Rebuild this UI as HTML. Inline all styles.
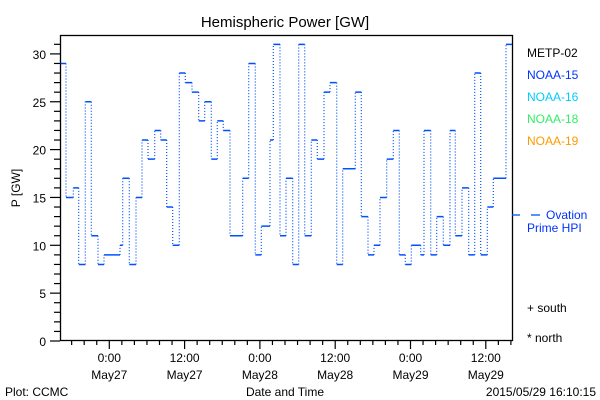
<!DOCTYPE html>
<html><head><meta charset="utf-8"><style>
body{margin:0;background:#fff;width:600px;height:400px;overflow:hidden}
svg{display:block}
text{font-family:"Liberation Sans",sans-serif;font-size:12px;fill:#000}
</style></head><body>
<svg id="s" width="600" height="400" xmlns="http://www.w3.org/2000/svg">
<rect x="0" y="0" width="600" height="400" fill="#fff"/>
<text x="285" y="27" text-anchor="middle" style="font-size:15px">Hemispheric Power [GW]</text>
<rect x="60.5" y="35.5" width="452" height="305" fill="none" stroke="#000" stroke-width="1.3"/>
<g id="ax" stroke="#000" stroke-width="1.2"></g>
<g id="lab"></g>
<path id="h" fill="none" stroke="#0050ff" stroke-width="1.5"/>
<path id="v" fill="none" stroke="#0050ff" stroke-width="1.2" stroke-dasharray="1 2"/>
<text x="20" y="188" text-anchor="middle" transform="rotate(-90 20 188)">P [GW]</text>
<text x="527" y="57">METP-02</text>
<text x="527" y="79" style="fill:#0033ff">NOAA-15</text>
<text x="527" y="101" style="fill:#00ccff">NOAA-16</text>
<text x="527" y="123" style="fill:#33ee66">NOAA-18</text>
<text x="527" y="145" style="fill:#ff9900">NOAA-19</text>
<line x1="512" y1="215" x2="520" y2="215" stroke="#0050ff" stroke-width="1.3"/>
<line x1="531" y1="215" x2="540" y2="215" stroke="#0050ff" stroke-width="1.3"/>
<text x="546" y="219" style="fill:#0033ff">Ovation</text>
<text x="527" y="232" style="fill:#0033ff">Prime HPI</text>
<text x="527" y="312">+ south</text>
<text x="527" y="342">* north</text>
<text x="5" y="396">Plot: CCMC</text>
<text x="285" y="396" text-anchor="middle">Date and Time</text>
<text x="596" y="396" text-anchor="end">2015/05/29 16:10:15</text>
</svg>
<script>
var d=[[60.7,29],[66,15],[73.3,16],[78.7,8],[85.3,25],[91.3,11],[98,8],[104,9],[120,10],[122.7,17],[129.3,8],[136,15],[142,21],[148,19],[154.7,22],[160.7,21],[166.7,14],[172.7,10],[179.3,28],[185.3,27],[192,26],[198.7,23],[204.7,25],[211.3,19],[217.3,23],[223.3,22],[230,11],[242.7,17],[248.7,29],[255.3,9],[261.3,12],[270,21],[273.3,31],[280,11],[286,17],[292.7,8],[298.7,31],[304.7,11],[311.3,21],[317.3,19],[324,26],[330,27],[336.7,8],[342.7,18],[355.3,26],[361.3,13],[368,9],[374,10],[380,15],[386.7,19],[393.3,22],[399.3,9],[405.3,8],[411.3,10],[420.7,9],[424,22],[430.7,9],[436.7,13],[443.3,10],[450,22],[455.3,11],[462,16],[468.7,9],[474.7,28],[480.7,9],[487.3,14],[493.3,17],[506,31]];
function Y(v){return 341-v*9.57}
var h="",vv="";
for(var i=0;i<d.length;i++){var x0=d[i][0],x1=i+1<d.length?d[i+1][0]:512,y=Y(d[i][1]);
h+="M"+x0+" "+y+"H"+x1;
if(i+1<d.length)vv+="M"+x1+" "+y+"V"+Y(d[i+1][1]);}
document.getElementById("h").setAttribute("d",h);
document.getElementById("v").setAttribute("d",vv);
var ax="",lab="";
for(var v=0;v<=31;v++){var y=Y(v),L=v%5==0?10:6;ax+='<line x1="'+(60-L)+'" y1="'+y+'" x2="60" y2="'+y+'"/>';
if(v%5==0)lab+='<text x="46" y="'+(y+5)+'" text-anchor="end">'+v+'</text>';}
var t0=109.3,st=12.55;
for(var k=-4;k<=32;k++){var x=t0+k*st;if(x<60||x>512)continue;var L=(k%6==0)?8:4;
ax+='<line x1="'+x+'" y1="341" x2="'+x+'" y2="'+(341+L)+'"/>';}
var tl=[["0:00","May27"],["12:00","May27"],["0:00","May28"],["12:00","May28"],["0:00","May29"],["12:00","May29"]];
for(var j=0;j<6;j++){var x=t0+j*6*st;lab+='<text x="'+x+'" y="362" text-anchor="middle">'+tl[j][0]+'</text><text x="'+x+'" y="379" text-anchor="middle">'+tl[j][1]+'</text>';}
document.getElementById("ax").innerHTML=ax;document.getElementById("lab").innerHTML=lab;
</script>
</body></html>
